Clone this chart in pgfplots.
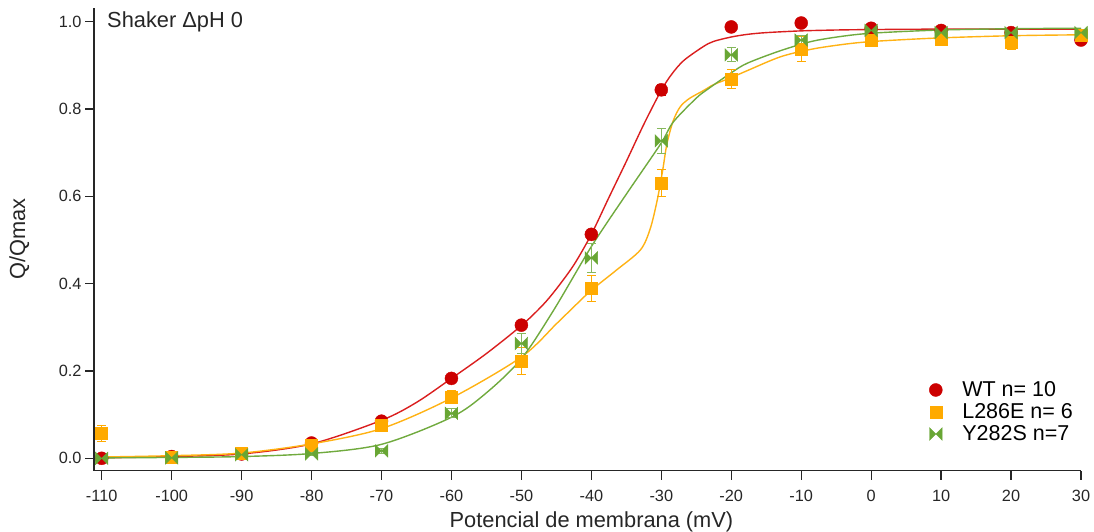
\documentclass[border=0pt]{standalone}
\usepackage{pgfplots}
\usepackage{pgfplotstable}
\pgfplotsset{compat=1.18}
\usepackage{fontspec}
\setmainfont{Liberation Sans}
\definecolor{wtred}{RGB}{204,0,0}
\definecolor{wtline}{RGB}{218,30,30}
\definecolor{lor}{RGB}{255,170,0}
\definecolor{lorline}{RGB}{255,178,20}
\definecolor{ygr}{RGB}{104,166,52}
\definecolor{ygrline}{RGB}{112,170,62}
\pgfdeclareplotmark{bowtie}{%
 \pgfpathmoveto{\pgfqpoint{-\pgfplotmarksize}{\pgfplotmarksize}}%
 \pgfpathlineto{\pgfqpoint{\pgfplotmarksize}{-\pgfplotmarksize}}%
 \pgfpathlineto{\pgfqpoint{\pgfplotmarksize}{\pgfplotmarksize}}%
 \pgfpathlineto{\pgfqpoint{-\pgfplotmarksize}{-\pgfplotmarksize}}%
 \pgfpathclose\pgfusepathqfillstroke}

\pgfplotstableread{
x y e
-110 0.000 0.003
-100 0.004 0.003
-90 0.010 0.003
-80 0.035 0.004
-70 0.085 0.006
-60 0.183 0.008
-50 0.305 0.008
-40 0.513 0.012
-30 0.844 0.012
-20 0.988 0.005
-10 0.997 0.004
0 0.985 0.005
10 0.980 0.004
20 0.975 0.004
30 0.958 0.004
}\wt
\pgfplotstableread{
x y e
-110 0.057 0.018
-100 0.003 0.004
-90 0.012 0.004
-80 0.030 0.005
-70 0.075 0.010
-60 0.141 0.015
-50 0.223 0.030
-40 0.389 0.030
-30 0.630 0.031
-20 0.869 0.021
-10 0.937 0.028
0 0.958 0.008
10 0.960 0.008
20 0.954 0.018
30 0.970 0.010
}\lre
\pgfplotstableread{
x y e
-110 0.000 0.003
-100 0.001 0.003
-90 0.008 0.003
-80 0.010 0.004
-70 0.017 0.005
-60 0.103 0.010
-50 0.263 0.023
-40 0.459 0.034
-30 0.727 0.029
-20 0.924 0.016
-10 0.958 0.010
0 0.980 0.006
10 0.975 0.006
20 0.975 0.006
30 0.975 0.006
}\yrs

\begin{document}
\begin{tikzpicture}
\path[use as bounding box] (0,0) rectangle (1094pt,531pt);
\begin{axis}[
  at={(94pt,60.3pt)}, anchor=south west,
  scale only axis, width=987pt, height=462.7pt,
  xmin=-111.1, xmax=30, ymin=-0.0284, ymax=1.0314,
  clip=false,
  axis lines=left,
  axis line style={-, line width=1.3pt, black!85},
  tick align=outside, major tick length=9pt,
  tick style={line width=1.3pt, black!85},
  xtick={-110,-100,-90,-80,-70,-60,-50,-40,-30,-20,-10,0,10,20,30},
  xticklabels={-110,-100,-90,-80,-70,-60,-50,-40,-30,-20,-10,0,10,20,30},
  ytick={0,0.2,0.4,0.6,0.8,1.0},
  yticklabels={0.0,0.2,0.4,0.6,0.8,1.0},
  ticklabel style={font=\fontsize{16.3}{19}\selectfont, text=black!85},
  xticklabel style={yshift=-7pt},
  xlabel={Potencial de membrana (mV)},
  ylabel={Q/Qmax},
  label style={font=\fontsize{21.8}{25}\selectfont, text=black!85},
  xlabel style={at={(axis description cs:0.504,-0.1217)}, anchor=base},
  ylabel style={at={(axis description cs:-0.0699,0.5)}, anchor=base},
  legend style={draw=none, fill=none, at={(rel axis cs:0.8456,0.196)}, anchor=north west,
    font=\fontsize{21.5}{22}\selectfont, row sep=2.5pt, inner sep=0pt,
    nodes={inner sep=1.5pt}, column sep=0pt},
  legend cell align=left,
  legend image code/.code={\draw[#1] plot coordinates {(0pt,0pt)}; \path[draw=none, fill=none] (-7pt,-0.1pt) rectangle (25pt,0.1pt);},
]
% fitted curves
\addplot[wtline, line width=1.4pt, smooth, forget plot] coordinates {
(-110,0.001) (-100,0.004) (-90,0.010) (-80,0.033) (-70,0.087) (-65,0.128) (-60,0.183)
(-55,0.240) (-50,0.304) (-47,0.350) (-45,0.388) (-42.5,0.443) (-40,0.513) (-37.5,0.597)
(-35,0.680) (-32.5,0.765) (-30,0.843) (-28.5,0.880) (-26.8,0.911) (-24,0.943) (-22.5,0.955)
(-20,0.965) (-17.7,0.971) (-15,0.975) (-10,0.979) (-5,0.981) (0,0.982) (10,0.983) (30,0.983)};
\addplot[lorline, line width=1.4pt, smooth, forget plot] coordinates {
(-110,0.003) (-100,0.006) (-90,0.012) (-80,0.033) (-70,0.068) (-60,0.138) (-50,0.232)
(-45,0.308) (-42.5,0.347) (-40,0.385) (-36.5,0.430) (-33,0.477) (-31.6,0.525) (-30.6,0.590)
(-29.8,0.660) (-29.2,0.720) (-28.3,0.773) (-27.3,0.805) (-26,0.824) (-24,0.842) (-22.5,0.856)
(-20,0.872) (-17.7,0.888) (-12.9,0.920) (-8.2,0.938) (-3,0.950) (1.4,0.956) (10,0.963) (20.4,0.968) (30,0.970)};
\addplot[ygrline, line width=1.4pt, smooth, forget plot] coordinates {
(-110,0.001) (-100,0.002) (-90,0.004) (-80,0.011) (-70,0.032) (-60,0.094) (-55,0.150)
(-50,0.228) (-45.4,0.339) (-40,0.485) (-35,0.605) (-30.1,0.720) (-28.3,0.770) (-25,0.825)
(-23.4,0.845) (-20,0.883) (-17.7,0.905) (-12.9,0.934) (-8.2,0.956) (-3,0.969) (1.4,0.975)
(10,0.981) (20.4,0.984) (30,0.985)};
% data
\addplot[only marks, mark=*, mark size=6.5pt, color=wtred, mark options={fill=wtred, draw=wtred, line width=0.4pt},
  error bars/.cd, y dir=both, y explicit,
  error bar style={line width=1pt, color=wtred},
  error mark options={rotate=90, mark size=4.5pt, line width=1pt, color=wtred}]
  table[x=x, y=y, y error=e] {\wt};
\addlegendentry{WT n= 10}
\addplot[only marks, mark=square*, mark size=6pt, color=lor, mark options={fill=lor, draw=lor, line width=0.4pt},
  error bars/.cd, y dir=both, y explicit,
  error bar style={line width=1pt, color=lor},
  error mark options={rotate=90, mark size=4.5pt, line width=1pt, color=lor}]
  table[x=x, y=y, y error=e] {\lre};
\addlegendentry{L286E n= 6}
\addplot[only marks, mark=bowtie, mark size=6.3pt, color=ygr, mark options={fill=ygr, draw=ygr, line width=0.4pt},
  error bars/.cd, y dir=both, y explicit,
  error bar style={line width=1pt, color=ygr!80},
  error mark options={rotate=90, mark size=4.5pt, line width=1pt, color=ygr!80}]
  table[x=x, y=y, y error=e] {\yrs};
\addlegendentry{Y282S n=7}
\node[anchor=west, font=\fontsize{21.8}{25}\selectfont, text=black!85, inner sep=0pt]
  at (rel axis cs:0.0132,0.970) {Shaker ΔpH 0};
\end{axis}
\end{tikzpicture}
\end{document}
